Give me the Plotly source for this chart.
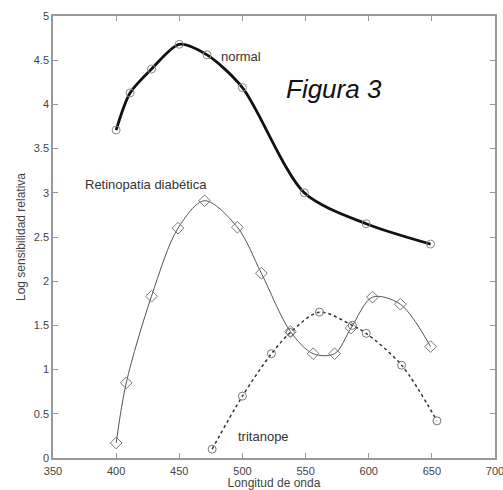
import plotly.graph_objects as go

# Data
normal_x = [400, 411, 428, 450, 472, 500, 549, 598, 649]
normal_y = [3.71, 4.13, 4.40, 4.68, 4.56, 4.19, 3.00, 2.65, 2.42]

retino_x = [400, 408, 428, 449, 470, 496, 515, 538, 556, 573, 586, 603, 625, 649]
retino_y = [0.17, 0.85, 1.83, 2.60, 2.91, 2.61, 2.09, 1.43, 1.18, 1.18, 1.47, 1.82, 1.74, 1.26]

trit_x = [476, 500, 523, 538, 561, 587, 598, 626, 654]
trit_y = [0.10, 0.70, 1.18, 1.42, 1.65, 1.50, 1.41, 1.05, 0.42]

x_ticks = [350, 400, 450, 500, 550, 600, 650, 700]
y_ticks = [0, 0.5, 1, 1.5, 2, 2.5, 3, 3.5, 4, 4.5, 5]
y_ticktext = ["0", "0.5", "1", "1.5", "2", "2.5", "3", "3.5", "4", "4.5", "5"]

FONT = "Liberation Sans, Arial, sans-serif"

fig = go.Figure()
fig.add_trace(go.Scatter(
    x=retino_x, y=retino_y, mode="lines+markers",
    line=dict(color="#555555", width=1, shape="spline", smoothing=0.9),
    marker=dict(symbol="diamond-open", size=9, color="#777777", line=dict(width=1)),
))
fig.add_trace(go.Scatter(
    x=trit_x, y=trit_y, mode="lines+markers",
    line=dict(color="#333333", width=1.5, dash="dot", shape="spline", smoothing=0.9),
    marker=dict(symbol="circle-open", size=8, color="#777777", line=dict(width=1)),
))
fig.add_trace(go.Scatter(
    x=normal_x, y=normal_y, mode="lines+markers",
    line=dict(color="#111111", width=2.8, shape="spline", smoothing=0.8),
    marker=dict(symbol="circle-open", size=8, color="#888888", line=dict(width=1)),
))

font_tick = dict(family=FONT, size=11, color="#444444")

fig.update_layout(
    width=503, height=490,
    margin=dict(l=53, r=8, t=16, b=32),
    paper_bgcolor="white", plot_bgcolor="white",
    showlegend=False,
    xaxis=dict(
        range=[350, 700], tickvals=x_ticks, ticks="inside", ticklen=5,
        tickcolor="#999999", showline=True, linecolor="#999999", linewidth=1.5,
        mirror="ticks", showgrid=False, zeroline=False, tickfont=font_tick,
        ticklabelstandoff=2, ticklabeloverflow="allow", automargin=False,
        title=dict(text="Longitud de onda", font=dict(family=FONT, size=12, color="#444444"), standoff=5),
    ),
    yaxis=dict(
        range=[0, 5], tickvals=y_ticks, ticktext=y_ticktext,
        ticks="inside", ticklen=5,
        tickcolor="#999999", showline=True, linecolor="#999999", linewidth=1.5,
        mirror="ticks", showgrid=False, zeroline=False, tickfont=font_tick,
        ticklabeloverflow="allow", automargin=False,
        title=dict(text="Log sensibilidad relativa", font=dict(family=FONT, size=12, color="#444444"), standoff=6),
    ),
)

# convert pixel positions of annotations to data coordinates
def px_to_data(px, py):
    x0, x1 = 53, 495
    y0, y1 = 458, 16
    xd = 350 + (px - x0) / (x1 - x0) * 350
    yd = (y0 - py) / (y0 - y1) * 5
    return xd, yd

ann_font = dict(family=FONT, size=13, color="#333333")
labels = [
    (219, 56, "normal", ann_font, "left"),
    (334, 89, "<i>Figura 3</i>", dict(family=FONT, size=26, color="#111111"), "center"),
    (146, 184, "Retinopatia diabética", ann_font, "center"),
    (263, 436, "tritanope", ann_font, "center"),
]
anns = []
for (px, py, txt, f, anchor) in labels:
    xd, yd = px_to_data(px, py)
    anns.append(dict(x=xd, y=yd, xref="x", yref="y", text=txt, showarrow=False, font=f,
                     xanchor=anchor))
fig.update_layout(annotations=anns)

fig.write_html("out.html")
